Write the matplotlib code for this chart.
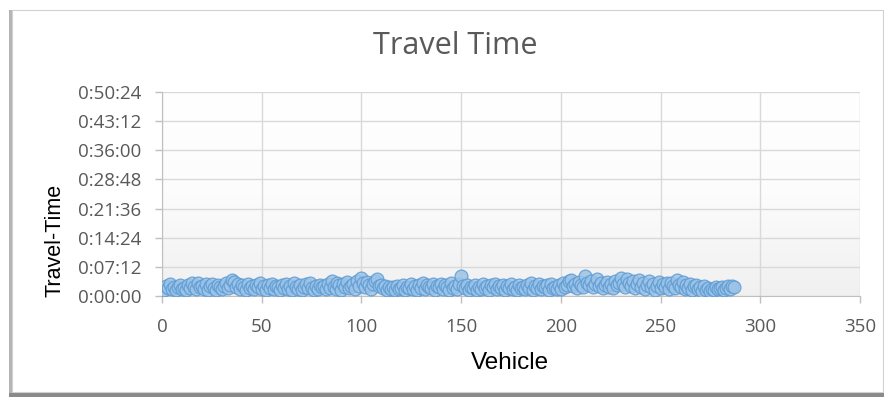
import numpy as np
import matplotlib
matplotlib.use("Agg")
import matplotlib.pyplot as plt
from matplotlib.patches import Rectangle
from matplotlib.ticker import FuncFormatter, MultipleLocator

# Travel time per vehicle, in seconds
travel_seconds = [
    95, 150, 120, 180, 110, 140, 90, 130, 160, 105, 125, 85, 170, 115, 200, 140, 100, 190, 130, 155,
    110, 175, 95, 145, 180, 120, 85, 160, 135, 100, 150, 190, 115, 170, 240, 210, 130, 180, 105, 165,
    140, 95, 185, 120, 155, 100, 170, 135, 190, 110, 145, 90, 165, 125, 180, 105, 150, 130, 95, 160,
    120, 175, 100, 145, 85, 190, 130, 110, 160, 95, 140, 180, 115, 200, 125, 90, 155, 105, 170, 135,
    150, 100, 185, 125, 215, 140, 110, 195, 160, 90, 175, 130, 205, 120, 155, 180, 100, 225, 145, 265,
    190, 130, 210, 160, 110, 180, 225, 250, 145, 170, 120, 155, 95, 140, 110, 130, 85, 150, 100, 125,
    165, 90, 140, 115, 180, 100, 150, 85, 170, 125, 195, 105, 160, 140, 115, 185, 95, 150, 130, 175,
    110, 165, 140, 95, 190, 125, 155, 105, 180, 300, 150, 120, 170, 95, 140, 115, 160, 85, 135, 105,
    175, 120, 150, 90, 165, 130, 185, 100, 145, 115, 170, 95, 155, 125, 180, 105, 140, 85, 160, 120,
    135, 100, 170, 115, 200, 90, 150, 125, 175, 105, 145, 130, 160, 95, 185, 120, 140, 110, 165, 100,
    195, 130, 160, 215, 230, 150, 185, 120, 205, 170, 140, 290, 200, 160, 225, 130, 180, 245, 150, 195,
    115, 170, 210, 140, 185, 125, 225, 160, 200, 260, 175, 135, 250, 190, 150, 215, 120, 180, 235, 140,
    200, 105, 165, 225, 130, 185, 95, 155, 210, 120, 175, 140, 200, 110, 190, 150, 125, 230, 165, 135,
    205, 100, 160, 120, 180, 90, 145, 170, 110, 135, 80, 150, 95, 120, 70, 110, 85, 130, 100, 115,
    140, 95, 125, 150, 110, 145, 130,
]
vehicle_ids = list(range(1, len(travel_seconds) + 1))

x_ticks = [0, 50, 100, 150, 200, 250, 300, 350]
y_step = 432          # 0:07:12
y_max = 3024          # 0:50:24

title_text = "Travel Time"
x_label = "Vehicle"
y_label = "Travel-Time"

W, H = 884, 397
fig = plt.figure(figsize=(W / 100, H / 100), dpi=100)
fig.patch.set_facecolor("white")

# chart frame with a soft shadow
fig.patches.append(Rectangle((9 / W, 1 - 397 / H), 876 / W, 6 / H,
                             transform=fig.transFigure, facecolor="#8a8a8a",
                             edgecolor="none", zorder=0))
fig.patches.append(Rectangle((9 / W, 1 - 393 / H), 3 / W, 383 / H,
                             transform=fig.transFigure, facecolor="#b5b5b5",
                             edgecolor="none", zorder=0))
fig.patches.append(Rectangle((12 / W, 1 - 392 / H), 871 / W, 382 / H,
                             transform=fig.transFigure, facecolor="white",
                             edgecolor="#d0d0d0", linewidth=0.8, zorder=0.5))

ax = fig.add_axes([162 / W, 1 - 296 / H, (860 - 162) / W, (296 - 92) / H])
ax.set_zorder(2)
ax.set_xlim(0, 350)
ax.set_ylim(0, y_max)

# faint vertical shading in the plot area
grad = np.linspace(0, 1, 256).reshape(-1, 1)
ax.imshow(grad, extent=[0, 350, 0, y_max], aspect="auto", origin="lower",
          cmap=matplotlib.colors.LinearSegmentedColormap.from_list(
              "shade", ["#f0f0f0", "#fcfcfc", "#ffffff"]), zorder=0)

ax.xaxis.set_major_locator(MultipleLocator(50))
ax.yaxis.set_major_locator(MultipleLocator(y_step))
ax.grid(True, color="#d9d9d9", linewidth=1.0, zorder=1)
ax.set_axisbelow(True)


def hms(v, _pos):
    v = int(round(v))
    return f"{v // 3600}:{(v % 3600) // 60:02d}:{v % 60:02d}"


ax.yaxis.set_major_formatter(FuncFormatter(hms))
ax.set_xticks(x_ticks)

for side in ("top", "right"):
    ax.spines[side].set_visible(False)
ax.spines["left"].set_color("#bfbfbf")
ax.spines["bottom"].set_color("#bfbfbf")
ax.tick_params(axis="both", colors="#bfbfbf", length=5, width=1,
               labelcolor="#595959", labelsize=13.5)
for lbl in ax.get_xticklabels() + ax.get_yticklabels():
    lbl.set_family("Open Sans")
ax.tick_params(axis="x", pad=11)
ax.tick_params(axis="y", pad=10)

ax.scatter(vehicle_ids, travel_seconds, s=85, facecolor="#9dc3e6",
           edgecolor="#5b9bd5", linewidth=0.9, alpha=0.85, zorder=3)

fig.text(455 / W, 1 - 46 / H, title_text, ha="center", va="center",
         fontsize=22, color="#595959", family="Open Sans")
fig.text(510 / W, 1 - 363 / H, x_label, ha="center", va="center",
         fontsize=17.5, color="black", family="Liberation Sans")
fig.text(55 / W, 1 - 240 / H, y_label, ha="center", va="center",
         rotation=90, fontsize=15.5, color="black", family="Liberation Sans")

fig.savefig("out.png", dpi=100)
